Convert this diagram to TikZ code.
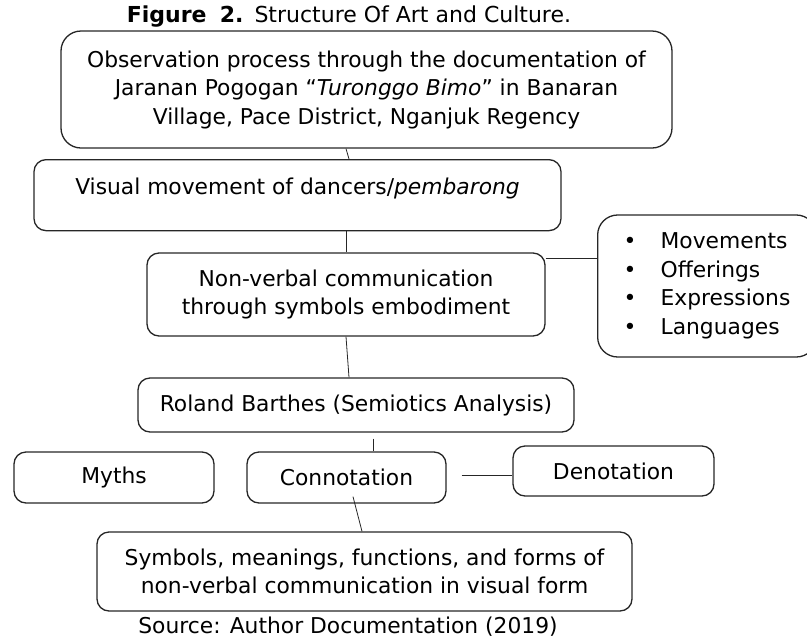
\documentclass[tikz,border=0pt]{standalone}
\usepackage{fontspec}
\setmainfont{DejaVu Sans}
\usetikzlibrary{calc}
\begin{document}
\begin{tikzpicture}[x=1pt,y=-1pt,
  box/.style={draw=black!85, line width=1.3pt, rounded corners=12pt, inner sep=0pt, align=center, font=\fontsize{21.8}{28.5}\selectfont},
  link/.style={draw=black!85, line width=0.8pt},
  txt/.style={inner sep=0pt, font=\fontsize{21.8}{28.5}\selectfont}]
\useasboundingbox (0,0) rectangle (807,638);
\node[txt] (title) at (349,17) {\fontsize{22}{24}\selectfont\textbf{Figure\hspace{0.6em}2.}\hspace{0.5em}Structure Of Art and Culture.};
\node[box, rounded corners=20pt, minimum width=611pt, minimum height=117pt] (top) at (366.5,89.5)
  {Observation process through the documentation of\\Jaranan Pogogan “\textit{Turonggo Bimo}” in Banaran\\Village, Pace District, Nganjuk Regency};
\node[box, anchor=north, minimum width=527pt, text height=35pt, text depth=36pt] (vis) at (297.5,159)
  {Visual movement of dancers/\textit{pembarong}};
\node[box, minimum width=398pt, minimum height=83pt] (nv) at (346,294.5)
  {Non-verbal communication\\through symbols embodiment};
\node[box, rounded corners=20pt, minimum width=210pt, minimum height=142pt, align=left, anchor=west, inner xsep=26pt] (bul) at (597,286)
  {\makebox[37pt][l]{•}Movements\\\makebox[37pt][l]{•}Offerings\\\makebox[37pt][l]{•}Expressions\\\makebox[37pt][l]{•}Languages};
\node[box, minimum width=436pt, minimum height=54pt] (rol) at (356,405)
  {Roland Barthes (Semiotics Analysis)};
\node[box, minimum width=200pt, minimum height=51pt] (myth) at (114,477.5) {Myths};
\node[box, minimum width=199pt, minimum height=51pt] (conn) at (346.5,477.5) {Connotation};
\node[box, minimum width=201pt, minimum height=50pt] (deno) at (613.5,471) {Denotation};
\node[box, minimum width=535pt, minimum height=79pt] (sym) at (364.5,571.5)
  {Symbols, meanings, functions, and forms of\\non-verbal communication in visual form};
\node[txt] (src) at (348,627) {Source: Author Documentation (2019)};
\draw[link] ($(top.south)+(-20.5,0)$) -- ($(vis.north)+(51.5,0)$);
\draw[link] (vis.south -| nv.north) -- (nv.north);
\coordinate (nvr) at ($(nv.north east)+(0,6)$);
\draw[link] (nvr) -- (bul.west |- nvr);
\draw[link] (nv.south) -- ($(rol.north)+(-7,0)$);
\draw[link] ($(rol.south)+(17,6)$) -- ($(conn.north)+(26.5,0)$);
\coordinate (cr) at ($(conn.east)+(15,-2.5)$);
\draw[link] (cr) -- (deno.west |- cr);
\draw[link] ($(conn.south)+(6.5,-7)$) -- ($(sym.north)+(-2.5,0)$);
\end{tikzpicture}
\end{document}
